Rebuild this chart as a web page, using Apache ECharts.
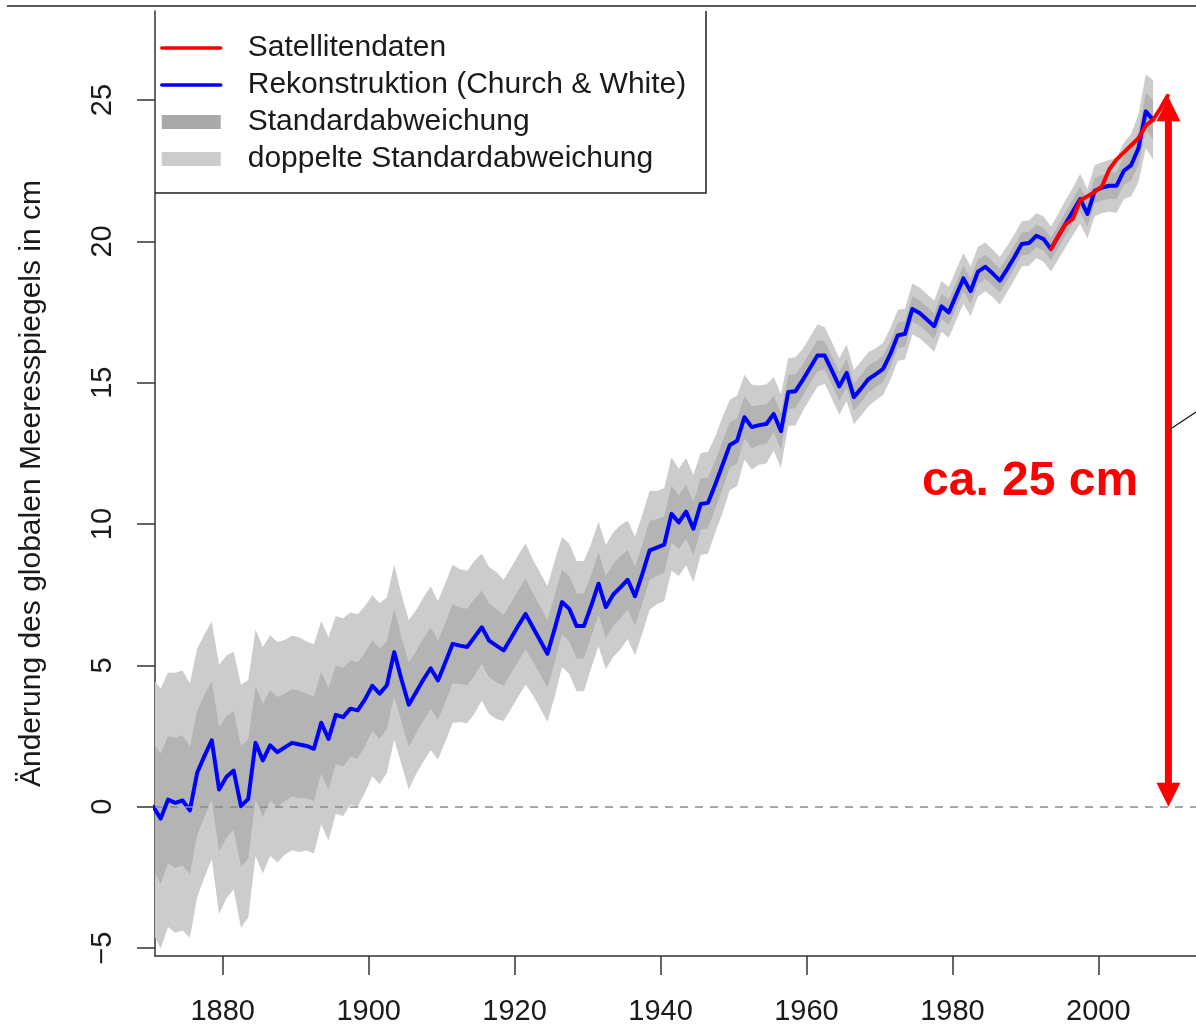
<!DOCTYPE html>
<html>
<head>
<meta charset="utf-8">
<script src="https://cdn.jsdelivr.net/npm/echarts@6/dist/echarts.min.js"></script>
<style>
html,body{margin:0;padding:0;background:#fff;}
#chart{width:1196px;height:1026px;}
</style>
</head>
<body>
<div id="chart"></div>
<script>
// ---- data ----
const startYear = 1870;            // first year of the reconstruction (annual means, mid-year)
const gmsl = [                     // Rekonstruktion (Church & White), cm
  0.0, -0.42, 0.25, 0.14, 0.22, -0.13, 1.2, 1.8, 2.35, 0.61,
  1.05, 1.28, 0.02, 0.28, 2.26, 1.64, 2.17, 1.93, 2.1, 2.26,
  2.2, 2.15, 2.05, 2.97, 2.4, 3.25, 3.17, 3.47, 3.41, 3.8,
  4.28, 4.0, 4.3, 5.47, 4.5, 3.61, 4.05, 4.5, 4.9, 4.47,
  5.1, 5.76, 5.7, 5.65, 6.0, 6.35, 5.88, 5.7, 5.53, 5.96,
  6.4, 6.82, 6.35, 5.88, 5.41, 6.3, 7.24, 7.0, 6.39, 6.39,
  7.11, 7.89, 7.06, 7.5, 7.76, 8.03, 7.45, 8.23, 9.07, 9.17,
  9.27, 10.36, 10.06, 10.44, 9.84, 10.71, 10.75, 11.4, 12.1, 12.8,
  12.95, 13.78, 13.43, 13.5, 13.54, 13.9, 13.29, 14.67, 14.7, 15.1,
  15.53, 15.96, 15.96, 15.42, 14.87, 15.35, 14.49, 14.8, 15.13, 15.3,
  15.49, 16.02, 16.67, 16.73, 17.61, 17.47, 17.24, 17.0, 17.7, 17.49,
  18.09, 18.69, 18.24, 18.93, 19.1, 18.87, 18.61, 19.02, 19.45, 19.91,
  19.94, 20.2, 20.08, 19.73, 20.17, 20.62, 21.06, 21.5, 20.97, 21.79,
  21.9, 21.97, 21.97, 22.5, 22.7, 23.3, 24.6, 24.3
];
const sigma = [                    // Standardabweichung, cm
  2.25, 2.3, 2.25, 2.3, 2.3, 2.25, 2.2, 2.15, 2.1, 2.2,
  2.15, 2.1, 2.15, 2.1, 2.0, 2.0, 1.95, 1.95, 1.9, 1.9,
  1.9, 1.85, 1.85, 1.8, 1.8, 1.75, 1.75, 1.7, 1.7, 1.65,
  1.6, 1.6, 1.55, 1.55, 1.5, 1.5, 1.45, 1.45, 1.45, 1.4,
  1.4, 1.4, 1.35, 1.35, 1.35, 1.3, 1.3, 1.3, 1.25, 1.25,
  1.25, 1.25, 1.2, 1.2, 1.2, 1.2, 1.15, 1.15, 1.15, 1.15,
  1.1, 1.1, 1.1, 1.1, 1.1, 1.05, 1.05, 1.05, 1.05, 1.0,
  1.0, 1.0, 0.95, 0.95, 0.95, 0.9, 0.9, 0.85, 0.85, 0.8,
  0.8, 0.75, 0.75, 0.7, 0.7, 0.65, 0.65, 0.6, 0.6, 0.55,
  0.55, 0.55, 0.5, 0.5, 0.5, 0.5, 0.48, 0.48, 0.48, 0.46,
  0.46, 0.46, 0.45, 0.45, 0.45, 0.45, 0.45, 0.45, 0.45, 0.45,
  0.45, 0.45, 0.44, 0.44, 0.43, 0.42, 0.42, 0.41, 0.4, 0.4,
  0.4, 0.4, 0.4, 0.4, 0.4, 0.42, 0.42, 0.44, 0.44, 0.45,
  0.45, 0.46, 0.48, 0.5, 0.55, 0.6, 0.65, 0.7
];
const satStart = 1993;             // Satellitendaten
const satellite = [
  19.73, 20.2, 20.6, 20.8, 21.45, 21.6, 21.75, 21.95, 22.55,
  22.9, 23.15, 23.4, 23.65, 24.1, 24.3, 24.7, 25.15
];
const xTicks = [1880, 1900, 1920, 1940, 1960, 1980, 2000];
const yTicks = [-5, 0, 5, 10, 15, 20, 25];
const arrowYear = [2009.6];        // "ca. 25 cm" annotation arrow
const arrowFrom = [0];
const arrowTo = [25.1];
const annotation = 'ca. 25 cm';
const names = {
  sat: 'Satellitendaten',
  rec: 'Rekonstruktion (Church & White)',
  sd1: 'Standardabweichung',
  sd2: 'doppelte Standardabweichung'
};

// ---- derived series ----
const xr = gmsl.map((_, i) => startYear + i + 0.5);
const recData = gmsl.map((v, i) => [xr[i], v]);
const satData = satellite.map((v, i) => [satStart + i + 0.5, v]);
const band2 = gmsl.map((v, i) => [xr[i], v - 2 * sigma[i], v + 2 * sigma[i]]);
const band1 = gmsl.map((v, i) => [xr[i], v - sigma[i], v + sigma[i]]);
const arrowData = arrowYear.map((y, i) => [y, arrowFrom[i], arrowTo[i]]);

const FONT = '"Liberation Sans", Arial, Helvetica, sans-serif';
const chart = echarts.init(document.getElementById('chart'), null, {renderer: 'canvas'});

// band polygon drawn through the axes' scales (api.coord)
function bandSeries(name, rows, color) {
  return {
    name, type: 'custom', data: rows, silent: true, clip: true, z: 1,
    itemStyle: {color},
    encode: {x: 0, y: [1, 2]},
    renderItem: (params, api) => {
      if (params.dataIndex !== 0) return null;
      const upper = rows.map(r => api.coord([r[0], r[2]]));
      const lower = rows.map(r => api.coord([r[0], r[1]])).reverse();
      return {
        type: 'polygon',
        shape: {points: upper.concat(lower)},
        style: {fill: color, stroke: null}
      };
    }
  };
}

const transparentIcon = {color: 'rgba(0,0,0,0)', borderColor: 'rgba(0,0,0,0)', borderWidth: 0, opacity: 0};

chart.setOption({
  animation: false,
  backgroundColor: '#ffffff',
  grid: {left: 155, right: 0, top: 11, bottom: 67, containLabel: false},
  legend: {
    orient: 'vertical', left: 160, top: 33, padding: 0,
    itemWidth: 59, itemHeight: 14, itemGap: 7,
    selectedMode: false,
    textStyle: {fontSize: 30, fontFamily: FONT, color: '#1a1a1a', lineHeight: 30, padding: [0, 0, 0, 22]},
    data: [
      {name: names.sat, itemStyle: transparentIcon, lineStyle: {width: 3.5, color: '#ff0000'}},
      {name: names.rec, itemStyle: transparentIcon, lineStyle: {width: 3.5, color: '#0000ff'}},
      {name: names.sd1, icon: 'rect', itemStyle: {color: '#aaaaaa', borderWidth: 0}},
      {name: names.sd2, icon: 'rect', itemStyle: {color: '#cccccc', borderWidth: 0}}
    ]
  },
  xAxis: {
    type: 'value', min: 1870.72, max: 2013.38,
    axisLine: {show: true, onZero: false, lineStyle: {color: '#333', width: 1.5}},
    axisTick: {show: true, length: 19, lineStyle: {color: '#333', width: 1.5}, customValues: xTicks},
    axisLabel: {fontSize: 29, fontFamily: FONT, color: '#1a1a1a', margin: 41, customValues: xTicks,
      formatter: v => String(v)},
    splitLine: {show: false}
  },
  yAxis: {
    type: 'value', min: -5.28, max: 28.15,
    name: 'Änderung des globalen Meeresspiegels in cm',
    nameLocation: 'middle', nameGap: 108,
    nameTextStyle: {fontSize: 30, fontFamily: FONT, color: '#1a1a1a'},
    axisLine: {show: true, onZero: false, lineStyle: {color: '#333', width: 1.5}},
    axisTick: {show: true, length: 18, lineStyle: {color: '#333', width: 1.5}, customValues: yTicks},
    axisLabel: {
      fontSize: 29, fontFamily: FONT, color: '#1a1a1a', rotate: 90, margin: 38,
      customValues: yTicks,
      formatter: v => String(v).replace('-', '\u2212')
    },
    splitLine: {show: false}
  },
  series: [
    bandSeries(names.sd2, band2, '#cccccc'),
    bandSeries(names.sd1, band1, '#b4b4b4'),
    {
      name: names.rec, type: 'line', data: recData, symbol: 'none',
      lineStyle: {color: '#0000ff', width: 4, join: 'round', cap: 'round'},
      itemStyle: {color: '#0000ff'}, z: 3,
      markLine: {
        silent: true, symbol: ['none', 'none'], label: {show: false},
        lineStyle: {color: '#8a8a8a', width: 1.5, type: [8, 7]},
        data: [{yAxis: 0}]
      }
    },
    {
      name: names.sat, type: 'line', data: satData, symbol: 'none',
      lineStyle: {color: '#ff0000', width: 4, join: 'round', cap: 'round'},
      itemStyle: {color: '#ff0000'}, z: 4
    },
    {
      type: 'custom', data: arrowData, silent: true, z: 5, clip: false,
      renderItem: (params, api) => {
        const a = api.coord([api.value(0), api.value(1)]);
        const b = api.coord([api.value(0), api.value(2)]);
        const x = a[0], hw = 12, hl = 24, sw = 7;
        return {
          type: 'group',
          children: [
            {type: 'rect', shape: {x: x - sw / 2, y: b[1] + hl - 1, width: sw, height: (a[1] - hl + 1) - (b[1] + hl - 1)}, style: {fill: '#ff0000'}},
            {type: 'polygon', shape: {points: [[x - hw, b[1] + hl], [x + hw, b[1] + hl], [x, b[1]]]}, style: {fill: '#ff0000'}},
            {type: 'polygon', shape: {points: [[x - hw, a[1] - hl], [x + hw, a[1] - hl], [x, a[1]]]}, style: {fill: '#ff0000'}}
          ]
        };
      }
    }
  ],
  graphic: [
    {type: 'line', shape: {x1: 7, y1: 6, x2: 1196, y2: 6}, style: {stroke: '#222', lineWidth: 1.5}, silent: true},
    {type: 'polyline', shape: {points: [[706, 11], [706, 193], [155, 193]]}, style: {stroke: '#222', lineWidth: 1.5, fill: null}, silent: true, z: 10},
    {type: 'line', shape: {x1: 1169, y1: 430, x2: 1196, y2: 412}, style: {stroke: '#111', lineWidth: 1.2}, silent: true, z: 10},
    {type: 'text', left: 922, top: 458, style: {text: annotation, font: 'bold 48px ' + FONT, fill: '#ff0000'}, silent: true, z: 10}
  ]
});
</script>
</body>
</html>
